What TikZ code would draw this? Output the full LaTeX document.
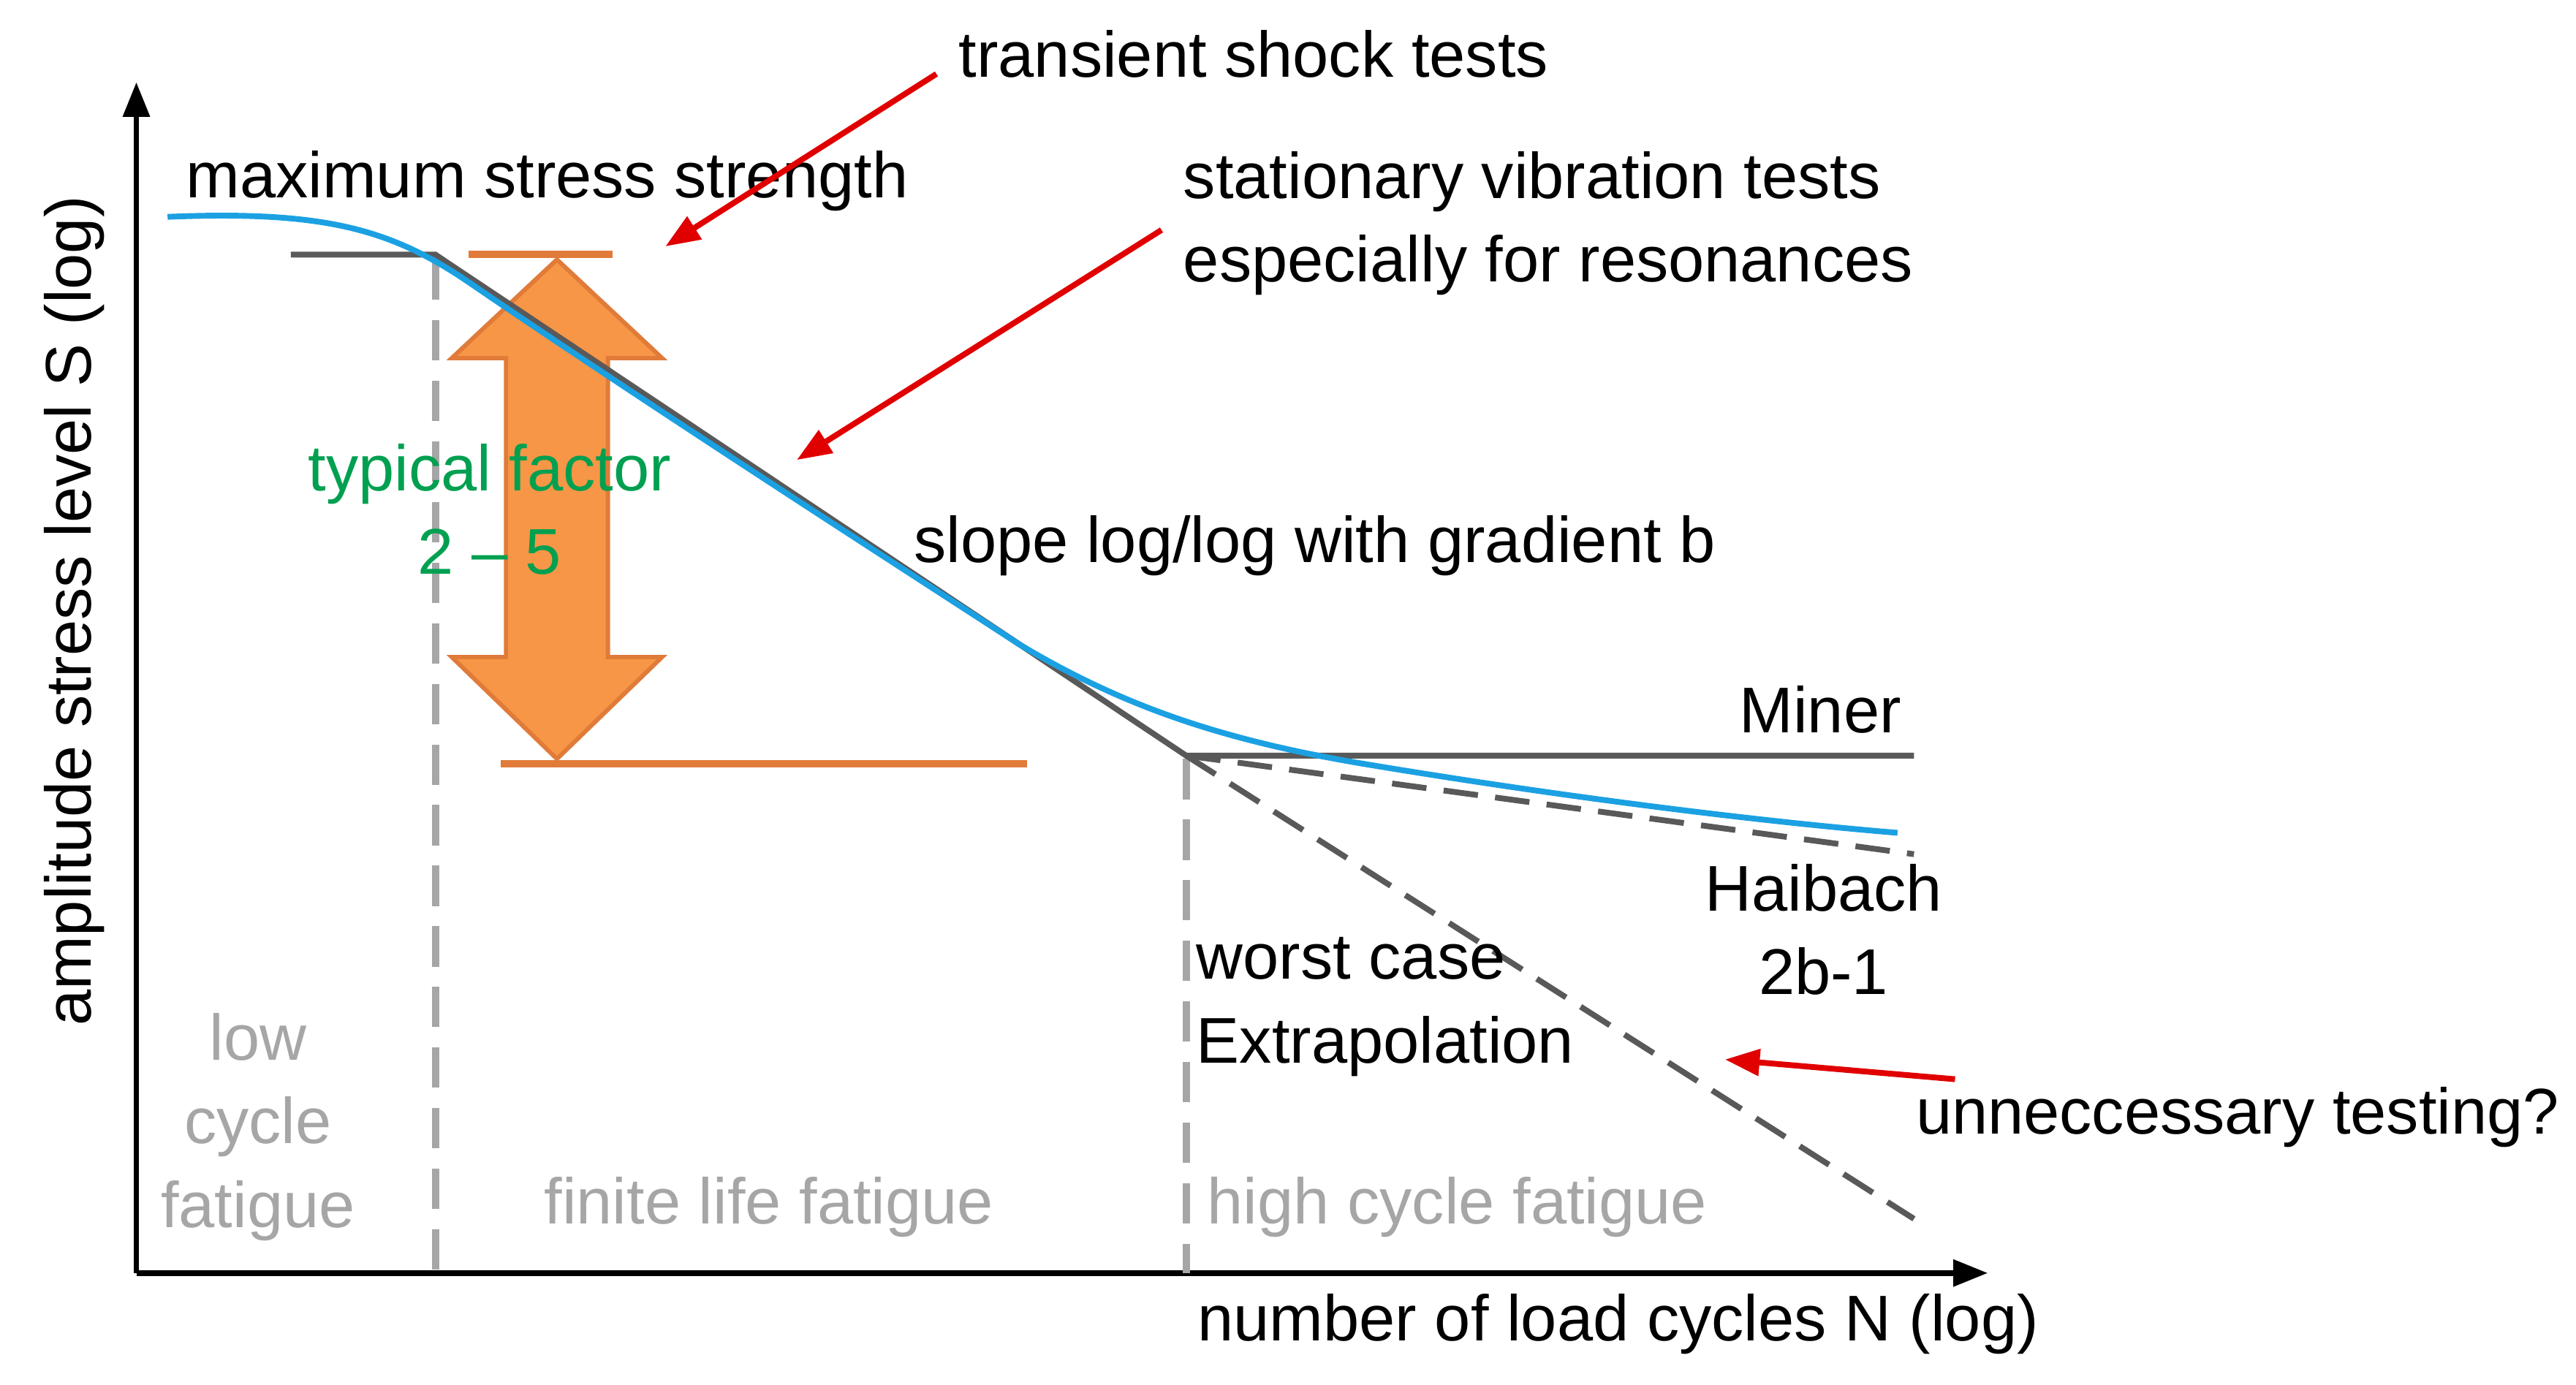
\documentclass[tikz,border=0pt]{standalone}
\usepackage{fontspec}
\setmainfont{Liberation Sans}
\usetikzlibrary{arrows.meta,shapes.arrows}
\definecolor{dk}{HTML}{595959}
\definecolor{lg}{HTML}{A6A6A6}
\definecolor{bl}{HTML}{1BA1E2}
\definecolor{org}{HTML}{E07B39}
\definecolor{orf}{HTML}{F79646}
\definecolor{gr}{HTML}{00A050}
\definecolor{rd}{HTML}{E00000}
\begin{document}
\begin{tikzpicture}[x=0.02cm,y=-0.02cm,
  txt/.style={font=\fontsize{22.4}{25}\selectfont,inner sep=0pt},
  gtxt/.style={txt,text=lg,align=center},
  redarr/.style={draw=rd,line width=2pt,-{Triangle[length=12pt,width=9pt]}},
  sn/.style={draw=dk,line width=2pt},
  vd/.style={draw=lg,line width=2.5pt,dash pattern=on 14pt off 7pt}]
\useasboundingbox (0,0) rectangle (1568,843);
% axes
\coordinate (o) at (83,775);
\coordinate (ytop) at (83,50);
\coordinate (xend) at (1210,775);
\draw[line width=2pt,-{Triangle[length=12pt,width=9pt]}] (o) -- (ytop);
\draw[line width=2pt,-{Triangle[length=12pt,width=9pt]}] (o) -- (xend);
\node[txt,rotate=90] (ylab) at (45,372) {amplitude stress level S (log)};
\node[txt] (xlab) at (985,806) {number of load cycles N (log)};
% vertical dashed
\coordinate (v1t) at (265,158); \coordinate (v1b) at (265,775);
\coordinate (v2t) at (722,462); \coordinate (v2b) at (722,775);
\draw[vd] (v1t) -- (v1b);
\draw[vd] (v2t) -- (v2b);
% orange lines
\coordinate (oa1) at (285,155); \coordinate (oa2) at (373,155);
\coordinate (ob1) at (305,465); \coordinate (ob2) at (625,465);
\draw[org,line width=2.5pt] (oa1) -- (oa2);
\draw[org,line width=2.5pt] (ob1) -- (ob2);
% double arrow
\draw[org,fill=orf,line width=1.5pt] (339,158) -- (403,218) -- (370,218) -- (370,400) -- (403,400) -- (339,462) -- (275,400) -- (308,400) -- (308,218) -- (275,218) -- cycle;
% S-N lines
\coordinate (s0) at (177,155); \coordinate (s1) at (265,155);
\coordinate (knee) at (722,460); \coordinate (miner) at (1165,460);
\coordinate (haib) at (1165,520); \coordinate (worst) at (1165,742);
\draw[sn] (s0) -- (s1) -- (knee) -- (miner);
\draw[sn,dash pattern=on 12pt off 6pt] (knee) -- (haib);
\draw[sn,dash pattern=on 12pt off 6pt] (knee) -- (worst);
% blue curve
\draw[bl,line width=2pt] (102,132) .. controls (200,128) and (240,140) .. (290,175)
  .. controls (400,250) and (540,340) .. (620,392)
  .. controls (680,428) and (740,450) .. (830,465)
  .. controls (950,485) and (1070,500) .. (1155,507);
% texts
\node[txt,text=gr,align=center] (tf) at (298,310) {typical factor\\[4pt]2 – 5};
\node[txt] (mss) at (333,110) {maximum stress strength};
\node[txt] (tst) at (763,33) {transient shock tests};
\node[txt,align=left,anchor=west] (svt) at (720,136) {stationary vibration tests\\[4pt]especially for resonances};
\node[txt,anchor=west] (slp) at (556,332) {slope log/log with gradient b};
\node[txt] (mn) at (1108,432) {Miner};
\node[txt,align=center] (hb) at (1110,566) {Haibach\\[4pt]2b-1};
\node[txt,align=left,anchor=west] (wc) at (728,613) {worst case\\[4pt]Extrapolation};
\node[txt] (ut) at (1362,680) {unneccessary testing?};
\node[gtxt] (lcf) at (157,686) {low\\[4pt]cycle\\[4pt]fatigue};
\node[gtxt] (flf) at (468,735) {finite life fatigue};
\node[gtxt] (hcf) at (887,735) {high cycle fatigue};
% red arrows
\coordinate (r1s) at (570,45); \coordinate (r1e) at (405,150);
\coordinate (r2s) at (707,140); \coordinate (r2e) at (485,280);
\coordinate (r3s) at (1190,657); \coordinate (r3e) at (1050,645);
\draw[redarr] (r1s) -- (r1e);
\draw[redarr] (r2s) -- (r2e);
\draw[redarr] (r3s) -- (r3e);
\end{tikzpicture}
\end{document}
